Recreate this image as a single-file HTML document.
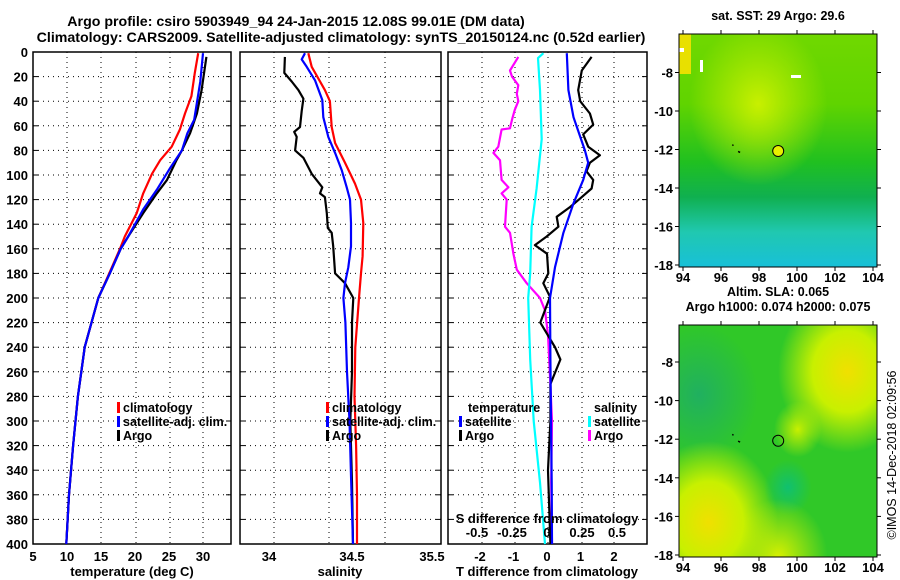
<!DOCTYPE html>
<html><head><meta charset="utf-8"><style>
body{margin:0;background:#fff;}
svg{display:block;font-family:"Liberation Sans",Arial,sans-serif;font-weight:bold;}
</style></head><body>
<svg id="c" width="900" height="580" viewBox="0 0 900 580" xmlns="http://www.w3.org/2000/svg">
<defs>
<radialGradient id="g1" cx="0.15" cy="0.85" r="0.35"><stop offset="0" stop-color="#f0e000"/><stop offset="0.5" stop-color="#c8f000"/><stop offset="1" stop-color="#c8f000" stop-opacity="0"/></radialGradient>
<radialGradient id="g2" cx="0.85" cy="0.2" r="0.35"><stop offset="0" stop-color="#f0e000"/><stop offset="0.5" stop-color="#c8f000"/><stop offset="1" stop-color="#c8f000" stop-opacity="0"/></radialGradient>
<radialGradient id="g3" cx="0.55" cy="0.7" r="0.12"><stop offset="0" stop-color="#10c070"/><stop offset="1" stop-color="#10c070" stop-opacity="0"/></radialGradient>
<radialGradient id="g4" cx="0.6" cy="0.45" r="0.12"><stop offset="0" stop-color="#c8f000"/><stop offset="1" stop-color="#c8f000" stop-opacity="0"/></radialGradient>
<radialGradient id="g5" cx="0.5" cy="1" r="0.25"><stop offset="0" stop-color="#d8f000"/><stop offset="1" stop-color="#d8f000" stop-opacity="0"/></radialGradient>
<radialGradient id="g6" cx="0.1" cy="0.3" r="0.3"><stop offset="0" stop-color="#20b060"/><stop offset="1" stop-color="#20b060" stop-opacity="0"/></radialGradient>
<radialGradient id="g7" cx="0.4" cy="0.3" r="0.35"><stop offset="0" stop-color="#c8f000"/><stop offset="1" stop-color="#c8f000" stop-opacity="0"/></radialGradient>
<linearGradient id="sst" x1="0" y1="0" x2="0" y2="1"><stop offset="0" stop-color="#70d800"/><stop offset="0.3" stop-color="#60d400"/><stop offset="0.55" stop-color="#20c020"/><stop offset="0.7" stop-color="#10b050"/><stop offset="0.85" stop-color="#20c8b0"/><stop offset="1" stop-color="#18c0d8"/></linearGradient>
</defs>
<g id="root"></g>
</svg>
<script>
// ---- data ----
const tempDepth = [1,17,36,50,63,77,88,99,115,131,150,160,180,200,240,280,320,360,400];
const tempClim  = [29.3,28.8,28.3,27.35,26.6,25.4,23.7,22.5,21.2,20.25,18.5,17.8,16.2,14.6,12.6,11.6,10.9,10.3,9.9];
const tempSatDepth = [1,24,55,66,80,94,112,128,150,160,180,200,240,280,320,360,400];
const tempSat   = [30.0,29.6,28.7,27.7,26.9,25.2,23.2,21.2,19.0,17.9,16.3,14.6,12.6,11.6,10.9,10.3,9.9];
const argoTDepth = [4,31,50,66,80,88,104,115,131,150,160,180,200,240,280,320,360,400];
const argoT     = [30.5,29.8,29.1,28.1,26.9,26.1,24.7,23.2,21.2,19.0,17.9,16.3,14.6,12.6,11.6,10.9,10.3,9.9];

const salArgoDepth = [4,17,24,31,38,48,61,65,69,80,86,99,110,115,118,131,143,147,158,180,188,200,220,260,300,350,400];
const salArgo = [34.096,34.092,34.137,34.177,34.207,34.197,34.187,34.152,34.167,34.157,34.207,34.257,34.321,34.307,34.337,34.348,34.354,34.378,34.387,34.398,34.458,34.508,34.50,34.50,34.49,34.50,34.506];
const salSatDepth = [1,6,12,23,39,53,69,82,96,110,120,139,158,175,188,200,220,260,300,350,400];
const salSat = [34.217,34.197,34.227,34.277,34.321,34.327,34.357,34.398,34.438,34.468,34.488,34.494,34.494,34.478,34.458,34.448,34.46,34.47,34.485,34.495,34.506];
const salClimDepth = [1,12,31,40,61,74,90,107,120,139,166,180,200,240,280,320,360,400];
const salClim = [34.237,34.257,34.337,34.367,34.378,34.398,34.458,34.518,34.554,34.568,34.564,34.554,34.542,34.52,34.515,34.525,34.53,34.53];

const dTArgoDepth = [4,15,31,40,50,59,67,77,84,90,97,104,111,119,126,134,142,150,157,164,180,188,199,220,240,250,270,300,340,400];
const dTArgo = [1.33,1.04,0.93,0.99,1.28,1.38,1.08,1.23,1.58,1.28,1.18,1.38,1.33,0.99,0.69,0.29,0.34,-0.01,-0.36,0,0.04,-0.11,0.09,-0.2,0.24,0.4,0.1,0.1,0.03,0.1];
const dTSatDepth = [1,31,53,80,90,104,123,147,175,200,250,300,350,400];
const dTSat = [0.59,0.64,0.79,1.13,1.23,1.08,0.79,0.49,0.24,0.09,0.1,0.12,0.14,0.15];
const dSSatDepth = [1,5,31,71,111,142,180,200,250,300,350,400];
const dSSat = [-0.026,-0.064,-0.05,-0.038,-0.074,-0.11,-0.12,-0.134,-0.12,-0.095,-0.05,-0.014];
const dSArgoDepth = [4,15,20,27,34,40,47,55,62,63,77,82,88,104,110,115,120,142,147,164,177,188,200,210,230,260,300,350,400];
const dSArgo = [-0.205,-0.264,-0.25,-0.205,-0.216,-0.205,-0.23,-0.25,-0.264,-0.324,-0.348,-0.383,-0.336,-0.324,-0.276,-0.324,-0.288,-0.3,-0.264,-0.24,-0.216,-0.145,-0.05,-0.014,0.007,0.02,0.036,0.03,0.036];

const depthTicks = [0,20,40,60,80,100,120,140,160,180,200,220,240,260,280,300,320,340,360,380,400];
const tempTicks = [5,10,15,20,25,30];
const salTicks = ["34","34.5","35.5"];
const dTTicks = [-2,-1,0,1,2];
const dSTicks = [-0.5,-0.25,0,0.25,0.5];
const latTicks = [-8,-10,-12,-14,-16,-18];
const lonTicks = [94,96,98,100,102,104];
const argoPos = [99.01,-12.08];

// ---- scales ----
const yD = d => 52 + d*1.23;
const xT = t => 33 + (t-5)*6.8;
const xS = s => 269 + (s-34)*166;
const xdT = t => 547 + t*33.5;
const xdS = s => 547 + s*140;
const xLon = l => 683 + (l-94)*19;
const yLatTop = l => 72.5 + (-8-l)*19.25;
const yLatBot = l => 362 + (-8-l)*19.3;

const NS='http://www.w3.org/2000/svg';
const root=document.getElementById('root');
function mk(tag, attrs, parent){const e=document.createElementNS(NS,tag);for(const k in attrs)e.setAttribute(k,attrs[k]);(parent||root).appendChild(e);return e;}
function txt(x,y,s,anchor,size,parent){const t=mk('text',{x:x,y:y,'text-anchor':anchor||'middle','font-size':size||12,fill:'#000'},parent);t.textContent=s;return t;}

const panels=[{x0:33,x1:231,grid:[67,101,136,170,203]},{x0:240,x1:441,grid:[274,329,385]},{x0:448,x1:647,grid:[482,515,548,582,614]}];
panels.forEach((p,i)=>{
  const g=mk('g',{});
  
  
  depthTicks.forEach(d=>{ if(d>0&&d<400){mk('line',{x1:p.x0,x2:p.x1,y1:yD(d),y2:yD(d),stroke:'#000','stroke-width':1,'stroke-dasharray':'1,4'},g);} mk('line',{x1:p.x0,x2:p.x0+5,y1:yD(d),y2:yD(d),stroke:'#000'},g);mk('line',{x1:p.x1-5,x2:p.x1,y1:yD(d),y2:yD(d),stroke:'#000'},g);});
  p.grid.forEach(x=>{mk('line',{x1:x,x2:x,y1:52,y2:yD(400),stroke:'#000','stroke-width':1,'stroke-dasharray':'1,4'},g);});
  mk('rect',{x:p.x0,y:52,width:p.x1-p.x0,height:yD(400)-52,fill:'none',stroke:'#000','stroke-width':1.5},g);
});
depthTicks.forEach(d=>{const t=txt(28,yD(d)+5,String(d),'end',13);});

function line(depths, vals, xf, color, name){
  const pts=depths.map((d,i)=>xf(vals[i]).toFixed(1)+','+yD(d).toFixed(1)).join(' ');
  const pl=mk('polyline',{points:pts,fill:'none',stroke:color,'stroke-width':2.2,'stroke-linejoin':'round'});
  
  
}
line(tempDepth,tempClim,xT,'#ff0000','temp-climatology-line');
line(argoTDepth,argoT,xT,'#000','temp-argo-line');
line(tempSatDepth,tempSat,xT,'#0000ff','temp-satellite-line');
line(salClimDepth,salClim,xS,'#ff0000','sal-climatology-line');
line(salArgoDepth,salArgo,xS,'#000','sal-argo-line');
line(salSatDepth,salSat,xS,'#0000ff','sal-satellite-line');
line(dSArgoDepth,dSArgo,xdS,'#ff00ff','sdiff-argo-line');
line(dSSatDepth,dSSat,xdS,'#00ffff','sdiff-satellite-line');
line(dTArgoDepth,dTArgo,xdT,'#000','tdiff-argo-line');
line(dTSatDepth,dTSat,xdT,'#0000ff','tdiff-satellite-line');

// x tick labels
tempTicks.forEach(t=>{const e=txt(xT(t),561,String(t),'middle',13);});
const salX=[269,352,432];
salTicks.forEach((s,i)=>{const e=txt(salX[i],561,s,'middle',13);});
dTTicks.forEach(t=>{const e=txt(xdT(t),561,String(t),'middle',13);});
dSTicks.forEach(t=>{const e=txt(xdS(t),537,String(t),'middle',13);});
let e;
e=txt(132,576,'temperature (deg C)','middle',13);
e=txt(340,576,'salinity','middle',13);
e=txt(547,576,'T difference from climatology','middle',13);
e=txt(547,523,'S difference from climatology','middle',13);

// legends
function legend(x,y,color,label,name){const g=mk('g',{});mk('rect',{x:x,y:y-10,width:3,height:11,fill:color},g);txt(x+6,y,label,'start',12.5,g);}
legend(117,412,'#ff0000','climatology','legend-climatology');
legend(117,426,'#0000ff','satellite-adj. clim.','legend-satellite-adj');
legend(117,440,'#000','Argo','legend-argo');
legend(326,412,'#ff0000','climatology','legend-sal-climatology');
legend(326,426,'#0000ff','satellite-adj. clim.','legend-sal-satellite-adj');
legend(326,440,'#000','Argo','legend-sal-argo');
e=txt(468,412,'temperature','start',12.5);
legend(459,426,'#0000ff','satellite','legend-t-satellite');
legend(459,440,'#000','Argo','legend-t-argo');
e=txt(594,412,'salinity','start',12.5);
legend(588,426,'#00ffff','satellite','legend-s-satellite');
legend(588,440,'#ff00ff','Argo','legend-s-argo');

// titles
e=txt(296,26,'Argo profile: csiro 5903949_94 24-Jan-2015 12.08S 99.01E (DM data)','middle',14.2);
e=txt(341,42,'Climatology: CARS2009. Satellite-adjusted climatology: synTS_20150124.nc (0.52d earlier)','middle',14.2);

// maps
function map(y0,y1,yl,fillFn,name,title1,title2,filledCircle){
  const g=mk('g',{});
  fillFn(g,y0,y1);
  mk('rect',{x:679,y:y0,width:198,height:y1-y0,fill:'none',stroke:'#000','stroke-width':1},g);
  latTicks.forEach(l=>{const y=yl(l);mk('line',{x1:675,x2:679,y1:y,y2:y,stroke:'#000'},g);mk('line',{x1:877,x2:881,y1:y,y2:y,stroke:'#000'},g);txt(673,y+5,String(l),'end',13,g);});
  lonTicks.forEach(l=>{const x=xLon(l);mk('line',{x1:x,x2:x,y1:y1,y2:y1+4,stroke:'#000'},g);mk('line',{x1:x,x2:x,y1:y0-4,y2:y0,stroke:'#000'},g);txt(x,y1+15,String(l),'middle',13,g);});
  const c=mk('circle',{cx:xLon(argoPos[0]),cy:yl(argoPos[1]),r:5.5,fill:filledCircle?'#e8f000':'none',stroke:'#000','stroke-width':1},g);
  
  mk('path',{d:'M'+xLon(96.6)+' '+yl(-11.8)+' l1 -1 M'+xLon(96.9)+' '+yl(-12.1)+' l2 1',stroke:'#000','stroke-width':1.5},g);
  txt(778,y0-(title2?29:14),title1,'middle',12.5,g);
  if(title2)txt(778,y0-14,title2,'middle',12.5,g);
}
map(34,267,yLatTop,(g,y0,y1)=>{
  mk('rect',{x:679,y:y0,width:198,height:y1-y0,fill:'url(#sst)'},g);
  mk('rect',{x:679,y:y0,width:198,height:y1-y0,fill:'url(#g7)'},g);
  mk('rect',{x:679,y:y0,width:12,height:40,fill:'#e8e000'},g);
  mk('rect',{x:679,y:48,width:5,height:4,fill:'#fff'},g);
  mk('rect',{x:791,y:75,width:10,height:3,fill:'#fff'},g);
  mk('rect',{x:700,y:60,width:3,height:12,fill:'#fff'},g);
},'sst-map','sat. SST: 29 Argo: 29.6',null,true);
map(325,557,yLatBot,(g,y0,y1)=>{
  mk('rect',{x:679,y:y0,width:198,height:y1-y0,fill:'#30c828'},g);
  mk('rect',{x:679,y:y0,width:198,height:y1-y0,fill:'url(#g6)'},g);
  mk('rect',{x:679,y:y0,width:198,height:y1-y0,fill:'url(#g1)'},g);
  mk('rect',{x:679,y:y0,width:198,height:y1-y0,fill:'url(#g2)'},g);
  mk('rect',{x:679,y:y0,width:198,height:y1-y0,fill:'url(#g3)'},g);
  mk('rect',{x:679,y:y0,width:198,height:y1-y0,fill:'url(#g4)'},g);
  mk('rect',{x:679,y:y0,width:198,height:y1-y0,fill:'url(#g5)'},g);
},'sla-map','Altim. SLA: 0.065','Argo h1000: 0.074 h2000: 0.075',false);

e=txt(0,0,'©IMOS 14-Dec-2018 02:09:56','middle',12.5);
e.setAttribute('font-weight','normal');
e.setAttribute('transform','translate(896,455) rotate(-90)');


</script>
</body></html>
